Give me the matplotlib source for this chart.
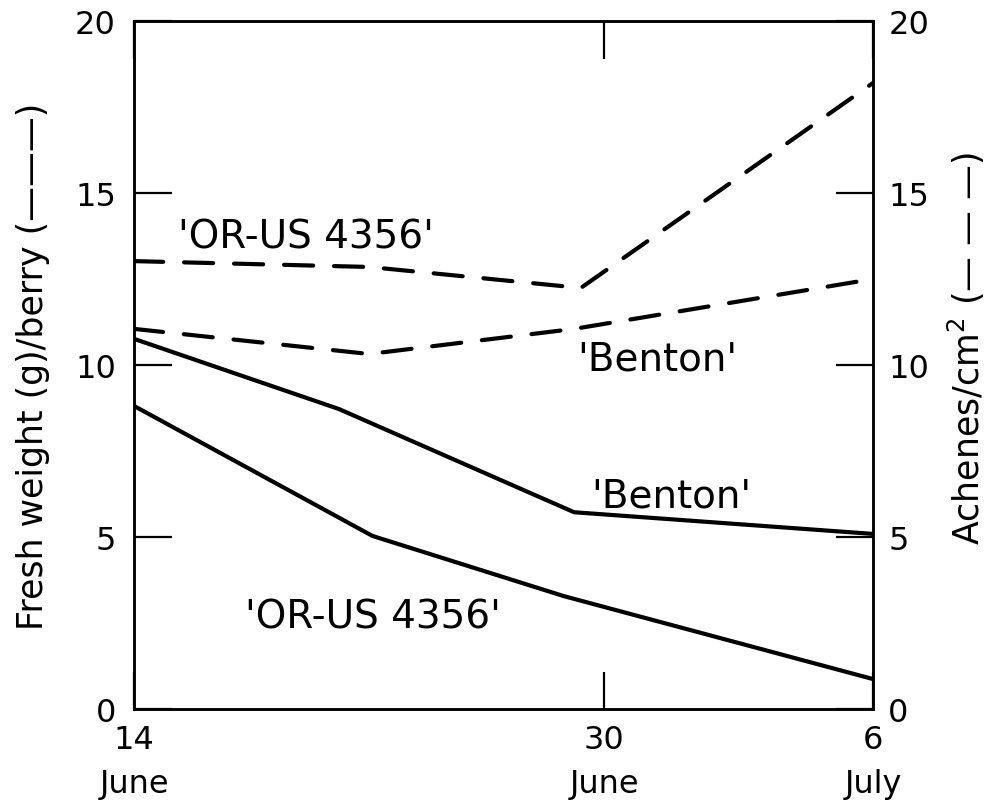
import matplotlib
matplotlib.use("Agg")
import matplotlib.pyplot as plt

# x in days after 14 June (axis runs 14 June -> 6 July)
benton_fw_x = [0, 6.1, 13.1, 22]
benton_fw = [10.76, 8.72, 5.72, 5.09]
orus_fw_x = [0, 7.1, 12.8, 22]
orus_fw = [8.81, 5.03, 3.28, 0.87]

orus_ach_x = [0, 7.0, 13.3, 22]
orus_ach = [13.02, 12.85, 12.24, 18.2]
benton_ach_x = [0, 7.0, 13.1, 22]
benton_ach = [11.05, 10.32, 11.05, 12.5]

xtick_pos = [0, 14, 22]
xtick_labels = ["14\nJune", "30\nJune", "6\nJuly"]
ytick_vals = [0, 5, 10, 15, 20]
ytick_labels = ["0", "5", "10", "15", "20"]

plt.rcParams['font.family'] = ['DejaVu Sans']
fig = plt.figure(figsize=(9.9, 8.03), dpi=100)
ax = fig.add_axes([0.1354, 0.1158, 0.7465, 0.8568])
ax2 = ax.twinx()

lw = 3.0
ax.plot(benton_fw_x, benton_fw, color='black', lw=lw, solid_joinstyle='round')
ax.plot(orus_fw_x, orus_fw, color='black', lw=lw, solid_joinstyle='round')
ax2.plot(orus_ach_x, orus_ach, color='black', lw=lw, dashes=(7, 5), dash_capstyle='round')
ax2.plot(benton_ach_x, benton_ach, color='black', lw=lw, dashes=(7, 5), dash_capstyle='round')

for a in (ax, ax2):
    a.set_xlim(0, 22)
    a.set_ylim(0, 20)
    for s in a.spines.values():
        s.set_linewidth(1.8)

ax.set_yticks(ytick_vals)
ax.set_yticklabels(ytick_labels)
ax2.set_yticks(ytick_vals)
ax2.set_yticklabels(ytick_labels)
ax.set_xticks(xtick_pos)
ax.set_xticklabels(xtick_labels)

tfs = 23
ax.tick_params(axis='y', direction='in', length=27, width=1.6, labelsize=tfs, pad=13)
ax2.tick_params(axis='y', direction='in', length=27, width=1.6, labelsize=tfs, pad=11)
ax.tick_params(axis='x', direction='in', length=27, width=1.6, labelsize=tfs, pad=11,
               top=True)
for t in ax.get_xticklabels():
    t.set_linespacing(1.55)

ax.set_ylabel("Fresh weight (g)/berry (———)", fontsize=25, labelpad=18)
ax2.set_ylabel("Achenes/cm$^2$ (— — —)", fontsize=25)
ax2.yaxis.set_label_coords(1.098, 0.525)

fs = 28
ax.text(1.3, 13.75, "'OR-US 4356'", fontsize=fs, ha='left', va='center')
ax.text(3.3, 2.70, "'OR-US 4356'", fontsize=fs, ha='left', va='center')
ax.text(13.6, 6.2, "'Benton'", fontsize=fs, ha='left', va='center')
ax.text(13.2, 10.2, "'Benton'", fontsize=fs, ha='left', va='center')

fig.savefig("out.png", dpi=100)
